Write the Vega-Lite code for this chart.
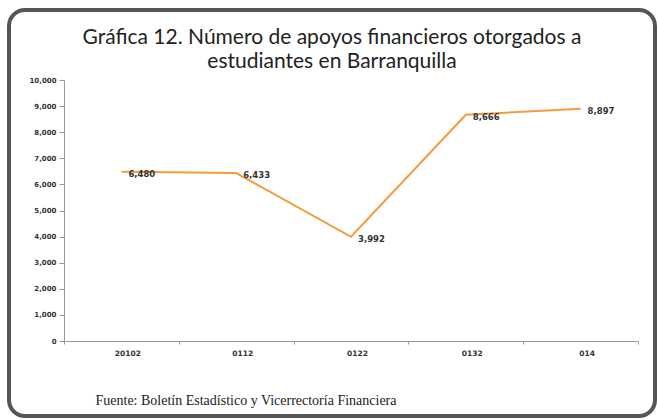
{
  "$schema": "https://vega.github.io/schema/vega-lite/v6.json",
  "width": 646,
  "height": 406,
  "autosize": {"type": "none"},
  "padding": {"left": 9, "top": 10, "right": 2, "bottom": 4},
  "background": "white",
  "config": {"view": {"stroke": "#555555", "strokeWidth": 4, "cornerRadius": 16}},
  "title": {
    "text": ["Gráfica 12. Número de apoyos financieros otorgados a", "estudiantes en Barranquilla"],
    "font": "Lato",
    "fontSize": 21,
    "fontWeight": "normal",
    "color": "#222222",
    "anchor": "middle",
    "frame": "group",
    "baseline": "top",
    "offset": -62,
    "lineHeight": 24
  },
  "data": {
    "values": [
      {"periodo": "20102", "apoyos": 6480},
      {"periodo": "0112", "apoyos": 6433},
      {"periodo": "0122", "apoyos": 3992},
      {"periodo": "0132", "apoyos": 8666},
      {"periodo": "014", "apoyos": 8897}
    ]
  },
  "encoding": {
    "x": {
      "field": "periodo",
      "type": "nominal",
      "sort": null,
      "bandPosition": 0.5,
      "scale": {"type": "band", "range": [55, 629], "paddingInner": 0, "paddingOuter": 0},
      "axis": {
        "orient": "bottom",
        "offset": -75,
        "title": "Fuente: Boletín Estadístico y Vicerrectoría Financiera",
        "titleFont": "Liberation Serif",
        "titleFontSize": 14,
        "titleFontWeight": "normal",
        "titleColor": "#222222",
        "titleAnchor": "start",
        "titleAlign": "left",
        "titleX": 86,
        "titleY": 63,
        "titleBaseline": "alphabetic",
        "labelFont": "DejaVu Sans",
        "labelFontWeight": "bold",
        "labelFontSize": 7.5,
        "labelColor": "#333333",
        "labelAngle": 0,
        "labelOffset": 6,
        "labelPadding": 5,
        "tickBand": "extent",
        "tickSize": 3,
        "tickColor": "#999999",
        "domainColor": "#999999",
        "grid": false
      }
    },
    "y": {
      "field": "apoyos",
      "type": "quantitative",
      "scale": {"domain": [0, 10000], "range": [331, 70]},
      "axis": {
        "offset": -55,
        "values": [0, 1000, 2000, 3000, 4000, 5000, 6000, 7000, 8000, 9000, 10000],
        "format": ",.0f",
        "labelFont": "DejaVu Sans",
        "labelFontWeight": "bold",
        "labelFontSize": 7,
        "labelColor": "#333333",
        "tickSize": 5,
        "tickColor": "#999999",
        "domainColor": "#999999",
        "labelPadding": 3,
        "grid": false,
        "title": null
      }
    }
  },
  "layer": [
    {"mark": {"type": "line", "color": "#F59B3E", "strokeWidth": 2}},
    {
      "mark": {"type": "text", "align": "left", "baseline": "middle", "dx": 7, "dy": 2, "font": "DejaVu Sans", "fontWeight": "bold", "fontSize": 8.5, "color": "#333333"},
      "encoding": {"text": {"field": "apoyos", "type": "quantitative", "format": ","}}
    }
  ]
}
